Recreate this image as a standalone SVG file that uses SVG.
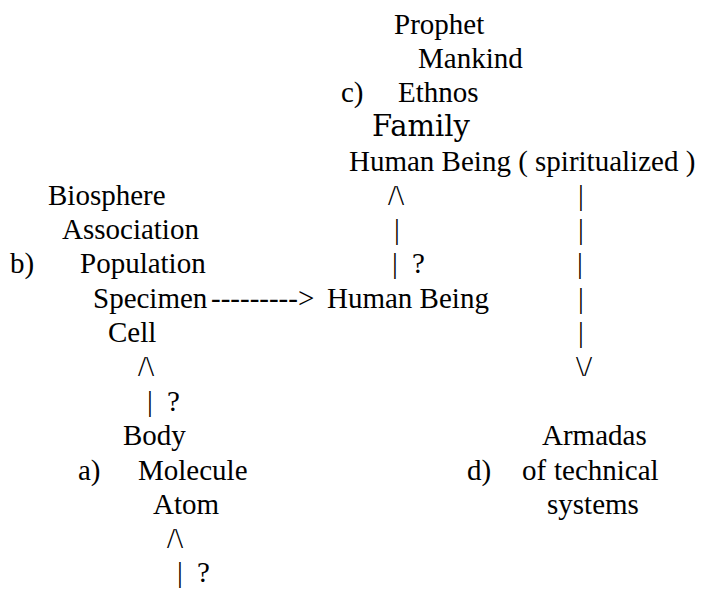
<svg xmlns="http://www.w3.org/2000/svg" width="710" height="592" viewBox="0 0 710 592">
<rect width="710" height="592" fill="#fff"/>
<g id="prophet"><text x="394" y="34" font-size="29" style="font-family:'Liberation Serif',serif">Prophet</text></g>
<g id="mankind"><text x="418" y="68" font-size="29" font-family="serif">Mankind</text></g>
<g id="ethnos"><text x="341" y="102" font-size="29" font-family="Times New Roman">c)</text><text x="398" y="102" font-size="29" font-family="Times New Roman">Ethnos</text></g>
<g id="family"><text x="372" y="136" font-size="29" font-family="DejaVu Serif">Family</text></g>
<g id="human-spiritualized"><text x="349" y="171" font-size="29" font-family="Liberation Serif">Human Being ( spiritualized )</text></g>
<text id="biosphere" x="48" y="205" font-size="29" font-family="Liberation Serif">Biosphere</text>
<text id="association" x="62" y="239" font-size="29" font-family="Liberation Serif">Association</text>
<text x="10" y="273" font-size="29" font-family="Liberation Serif">b)</text>
<text id="population" x="80" y="273" font-size="29" font-family="Liberation Serif">Population</text>
<text id="specimen" x="93" y="308" font-size="29" font-family="Liberation Serif">Specimen</text>
<g id="human-being"><text x="327" y="308" font-size="29" font-family="Liberation Serif">Human Being</text></g>
<g id="cell"><text x="108" y="342" font-size="29" font-family="Liberation Serif">Cell</text></g>
<g id="body"><text x="123" y="445" font-size="29" font-family="Liberation Serif">Body</text></g>
<g id="molecule"><text x="78" y="480" font-size="29" font-family="Liberation Serif">a)</text><text x="138" y="480" font-size="29" font-family="Liberation Serif">Molecule</text></g>
<g id="atom"><text x="153" y="514" font-size="29" font-family="Liberation Serif">Atom</text></g>
<g id="armadas"><text x="542" y="445" font-size="29" font-family="Liberation Serif">Armadas</text><text x="467" y="480" font-size="29" font-family="Liberation Serif">d)</text><text x="522" y="480" font-size="29" font-family="Liberation Serif">of</text><text x="554" y="480" font-size="29" font-family="Liberation Serif">technical</text><text x="547" y="514" font-size="29" font-family="Liberation Serif">systems</text></g>
<g id="connectors">
<text x="211" y="308" font-size="29" font-family="Liberation Serif">---------&gt;</text>
<text x="388" y="205" font-size="29" font-family="Liberation Serif">/\</text>
<text x="394" y="239" font-size="29" font-family="Liberation Serif">|</text>
<text x="392" y="273" font-size="29" font-family="Liberation Serif">|</text><text x="412" y="273" font-size="29" font-family="Liberation Serif">?</text>
<text x="578" y="205" font-size="29" font-family="Liberation Serif">|</text>
<text x="578" y="239" font-size="29" font-family="Liberation Serif">|</text>
<text x="577" y="273" font-size="29" font-family="Liberation Serif">|</text>
<text x="578" y="308" font-size="29" font-family="Liberation Serif">|</text>
<text x="578" y="342" font-size="29" font-family="Liberation Serif">|</text>
<text x="576" y="376" font-size="29" font-family="Liberation Serif">\/</text>
<text x="138" y="376" font-size="29" font-family="Liberation Serif">/\</text>
<text x="147" y="411" font-size="29" font-family="Liberation Serif">|</text><text x="167" y="411" font-size="29" font-family="Liberation Serif">?</text>
<text x="167" y="548" font-size="29" font-family="Liberation Serif">/\</text>
<text x="177" y="582" font-size="29" font-family="Liberation Serif">|</text><text x="197" y="582" font-size="29" font-family="Liberation Serif">?</text>
</g>
</svg>
